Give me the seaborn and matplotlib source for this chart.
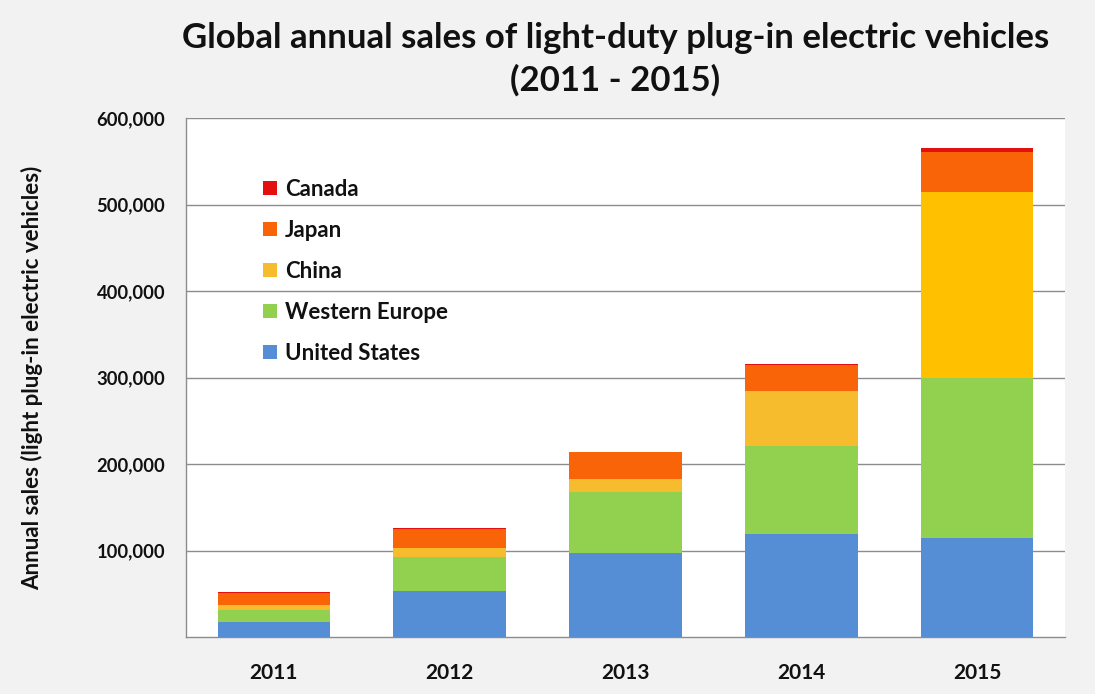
import matplotlib
matplotlib.use("Agg")
import matplotlib.pyplot as plt
import seaborn as sns
import numpy as np
import pandas as pd
from matplotlib.patches import Patch
from matplotlib.ticker import FixedLocator, FuncFormatter

years = ["2011", "2012", "2013", "2014", "2015"]
united_states = [17700, 53600, 97600, 118800, 114900]
western_europe = [13500, 39300, 70600, 102300, 184500]
china = [5500, 10500, 14700, 62900, 214800]
japan = [14300, 21400, 30400, 30800, 46300]
canada = [500, 1000, 1000, 1000, 4300]

series_names = ["United States", "Western Europe", "China", "Japan", "Canada"]
series_values = [united_states, western_europe, china, japan, canada]
colors = {
    "United States": "#558ED5",
    "Western Europe": "#92D050",
    "China": "#F6BC2E",
    "Japan": "#F96408",
    "Canada": "#E3100F",
}
china_bar_colors = ["#F6BC2E", "#F6BC2E", "#F6BC2E", "#F6BC2E", "#FFC000"]

FONT = "Lato"
BG = "#F2F2F2"
GRID = "#8C8C8C"
TXT = "#111111"

fig = plt.figure(figsize=(10.95, 6.94), dpi=100, facecolor=BG)
ax = fig.add_axes([186 / 1095, 1 - 637 / 694, (1065 - 186) / 1095, (637 - 118) / 694])
ax.set_facecolor("white")

# cumulative stacks, drawn from the top layer down so each overlays the previous
cum = np.cumsum(np.array(series_values), axis=0)
for i in range(len(series_names) - 1, -1, -1):
    name = series_names[i]
    df = pd.DataFrame({"year": years, "value": cum[i]})
    if name == "China":
        sns.barplot(data=df, x="year", y="value", hue="year", palette=china_bar_colors,
                    legend=False, width=0.64, linewidth=0, saturation=1, ax=ax, zorder=3)
    else:
        sns.barplot(data=df, x="year", y="value", color=colors[name],
                    width=0.64, linewidth=0, saturation=1, ax=ax, zorder=3)

ax.set_xlim(-0.5, 4.5)
ax.set_ylim(0, 600000)
ax.yaxis.set_major_locator(FixedLocator([100000, 200000, 300000, 400000, 500000, 600000]))
ax.yaxis.set_major_formatter(FuncFormatter(lambda v, p: f"{int(v):,}"))
ax.yaxis.grid(True, color=GRID, linewidth=1)
ax.set_axisbelow(True)
ax.tick_params(axis="both", length=0)
ax.tick_params(axis="y", pad=15, labelsize=13.2)
ax.tick_params(axis="x", pad=19, labelsize=15)
for lab in ax.get_xticklabels() + ax.get_yticklabels():
    lab.set_fontfamily(FONT)
    lab.set_fontweight("bold")
    lab.set_color(TXT)

for s in ["right", "top"]:
    ax.spines[s].set_visible(False)
for s in ["left", "bottom"]:
    ax.spines[s].set_color(GRID)
    ax.spines[s].set_linewidth(1)

ax.set_xlabel("")
ax.set_ylabel("Annual sales (light plug-in electric vehicles)", fontsize=16,
              fontweight="bold", family=FONT, color=TXT)
ax.yaxis.set_label_coords(-0.162, 0.5)

fig.text(0.562, 1 - 38 / 694, "Global annual sales of light-duty plug-in electric vehicles",
         ha="center", va="center", fontsize=25, fontweight="bold", family=FONT, color=TXT)
fig.text(0.562, 1 - 80 / 694, "(2011 - 2015)",
         ha="center", va="center", fontsize=25, fontweight="bold", family=FONT, color=TXT)

handles = [Patch(facecolor=colors[n], edgecolor="none", label=n) for n in reversed(series_names)]
leg = ax.legend(handles=handles, loc="upper left", bbox_to_anchor=(252 / 1095, 1 - 168 / 694),
                bbox_transform=fig.transFigure, frameon=False, borderpad=0,
                handlelength=0.62, handleheight=0.62, handletextpad=0.35, labelspacing=0.9,
                prop={"family": FONT, "weight": "bold", "size": 16})
for t in leg.get_texts():
    t.set_color(TXT)

fig.savefig("out.png", dpi=100, facecolor=BG)
